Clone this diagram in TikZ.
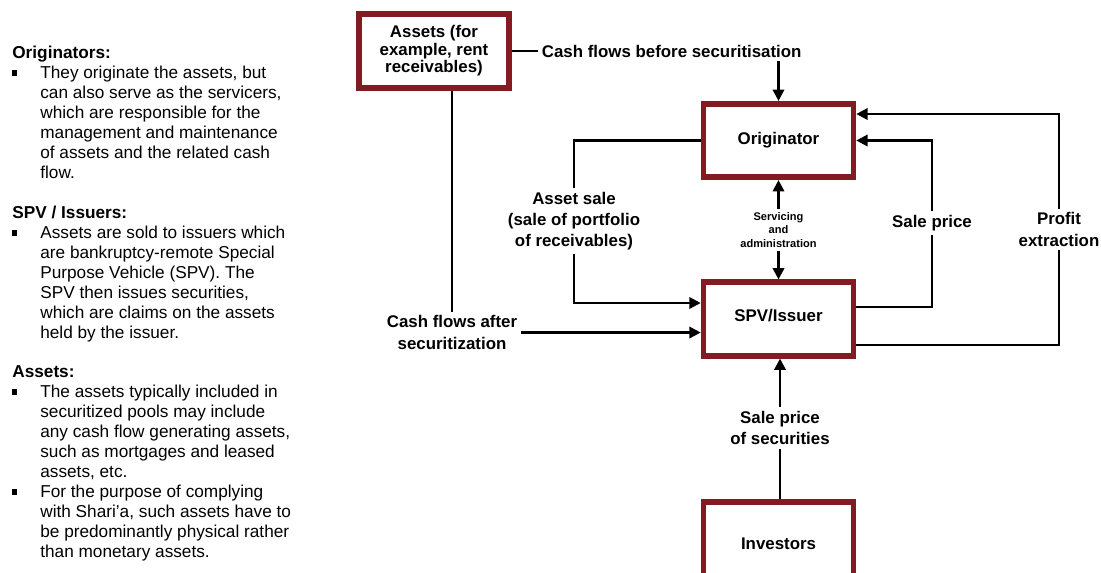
\documentclass[tikz,border=0pt]{standalone}
\usepackage{fontspec}
\setmainfont{Liberation Sans}
\usetikzlibrary{positioning,arrows.meta}
\definecolor{boxred}{RGB}{130,28,34}

\tikzset{
  box/.style={draw=boxred, line width=3.2pt, minimum width=3cm, minimum height=1.47cm,
    align=center, inner sep=1pt, font=\fontsize{9.6}{10}\selectfont\bfseries},
  lbl/.style={align=center, inner sep=2pt, font=\fontsize{9.6}{12}\selectfont\bfseries},
  smalllbl/.style={align=center, inner sep=2pt, font=\fontsize{6.3}{7.6}\selectfont\bfseries},
  flow/.style={line width=1.4pt},
  arr/.style={flow, -{Triangle[length=6.5pt,width=6.5pt]}},
  head/.style={anchor=base west, inner sep=0pt, font=\fontsize{9.8}{11.4}\selectfont\bfseries},
  para/.style={anchor=base west, inner sep=0pt, font=\fontsize{9.8}{11.4}\selectfont},
  bul/.style={fill, minimum size=3.1pt, inner sep=0pt}
}

\begin{document}
\begin{tikzpicture}[x=0.02cm, y=-0.02cm]
  \useasboundingbox (0,0) rectangle (1101,572);

  \node[head] (hOrig) at (12,58) {Originators:};
  \node[bul] (bOrig) at (14.5,73) {};
  \foreach \y/\t in {78/{They originate the assets, but}, 98/{can also serve as the servicers,},
    118/{which are responsible for the}, 138/{management and maintenance},
    158/{of assets and the related cash}, 178/{flow.}}{
    \node[para] (o\y) at (40,\y) {\t};
  }

  \node[head] (hSpv) at (12,218) {SPV / Issuers:};
  \node[bul] (bSpv) at (14.5,233) {};
  \foreach \y/\t in {238/{Assets are sold to issuers which}, 258/{are bankruptcy-remote Special},
    278/{Purpose Vehicle (SPV). The}, 298/{SPV then issues securities,},
    318/{which are claims on the assets}, 338/{held by the issuer.}}{
    \node[para] (s\y) at (40,\y) {\t};
  }

  \node[head] (hAss) at (12,377) {Assets:};
  \node[bul] (bAss1) at (14.5,392) {};
  \node[bul] (bAss2) at (14.5,492) {};
  \foreach \y/\t in {397/{The assets typically included in}, 417/{securitized pools may include},
    437/{any cash flow generating assets,}, 457/{such as mortgages and leased},
    477/{assets, etc.}, 497/{For the purpose of complying},
    517/{with Shari’a, such assets have to}, 537/{be predominantly physical rather},
    557/{than monetary assets.}}{
    \node[para] (a\y) at (40,\y) {\t};
  }

  \node[box] (assets) at (434,51) {Assets (for\\example, rent\\receivables)};
  \node[box] (orig) at (778.5,140.5) {Originator};
  \node[box] (spv) at (778.5,319) {\raisebox{-1.5pt}[0pt][0pt]{SPV/Issuer}};
  \node[box] (inv) at (778.5,539) {\raisebox{-5.8pt}[0pt][0pt]{Investors}};

  \node[lbl, anchor=west] (cfb) at (538,51) {Cash flows before securitisation};
  \draw[flow] (assets.east) -- (cfb.west);
  \draw[arr] (cfb.south -| orig.north) -- (orig.north);

  \node[lbl] (sale) at (574,221) {Asset sale\\(sale of portfolio\\of receivables)};
  \draw[flow] (orig.west) -| (sale.north);
  \draw[arr] (sale.south) |- ([yshift=0.32cm]spv.west);

  \node[lbl] (cfa) at (452,332.5) {Cash flows after\\securitization};
  \draw[flow] (assets.south -| cfa.north) -- (cfa.north);
  \draw[arr] (cfa.east) -- (cfa.east -| spv.west);

  \node[smalllbl] (serv) at (778.5,230) {Servicing\\and\\administration};
  \draw[arr] (serv.north) -- (orig.south);
  \draw[arr] (serv.south) -- (spv.north);

  \node[lbl] (price) at (932,223) {Sale price};
  \draw[flow] ([yshift=0.24cm]spv.east) -| (price.south);
  \draw[arr] (price.north) |- (orig.east);

  \node[lbl] (profit) at (1059,229.5) {Profit\\extraction};
  \draw[flow] ([yshift=-0.52cm]spv.east) -| (profit.south);
  \draw[arr] (profit.north) |- ([yshift=0.53cm]orig.east);

  \node[lbl] (secp) at (780,428) {Sale price\\of securities};
  \draw[flow] (inv.north -| secp.south) -- (secp.south);
  \draw[arr] (secp.north) -- (secp.north |- spv.south);
\end{tikzpicture}
\end{document}
